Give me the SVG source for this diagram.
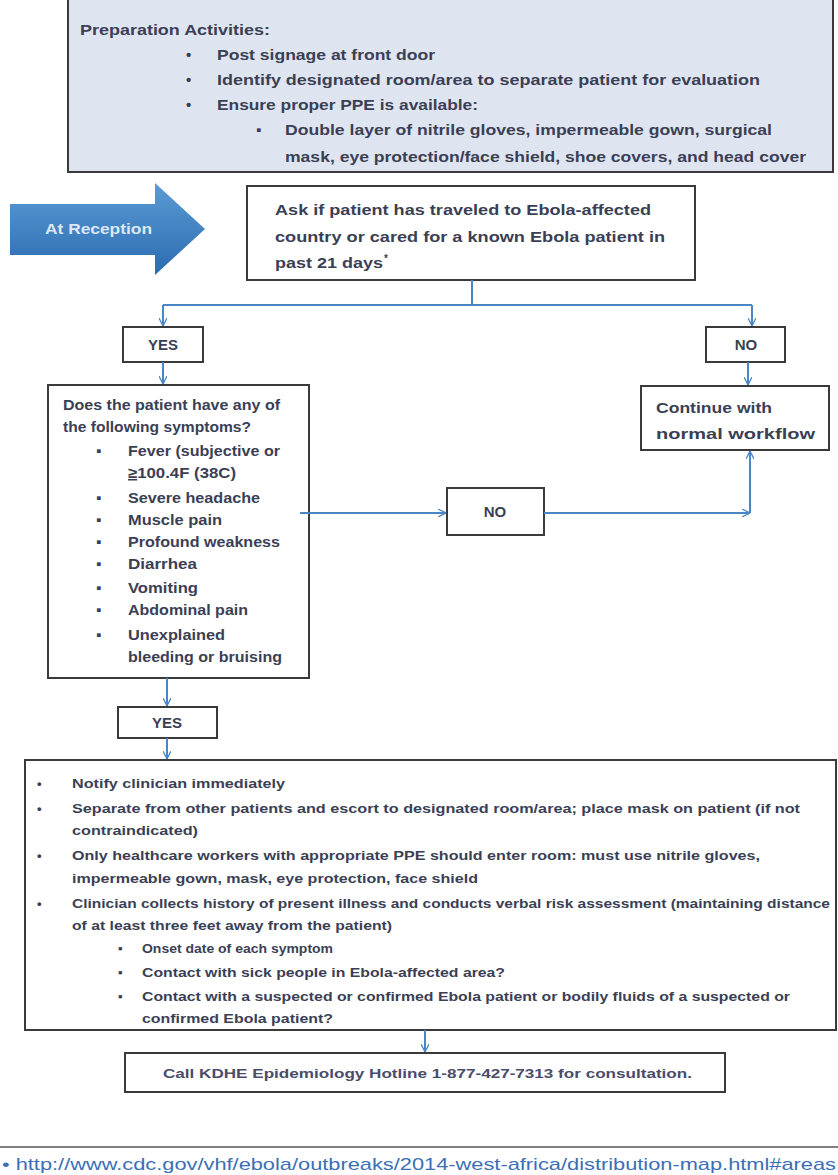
<svg xmlns="http://www.w3.org/2000/svg" width="838" height="1175" viewBox="0 0 838 1175">
<style>
text{font-family:"Liberation Sans",Arial,sans-serif;font-weight:bold;fill:#3b3f55}
.t15{font-size:15px}
.t13{font-size:13px;fill:#4a4c6a}
.box{fill:#fff;stroke:#3a3a3a;stroke-width:2}
.conn{fill:none;stroke:#4a86c5;stroke-width:2}
.lbl{text-anchor:middle}
</style>
<defs>
<marker id="ah" viewBox="0 0 10 10" refX="10" refY="5" markerWidth="8" markerHeight="8" markerUnits="userSpaceOnUse" orient="auto">
<path d="M0,0 L10,5 L0,10" fill="none" stroke="#4a86c5" stroke-width="1.6"/>
</marker>
<linearGradient id="bg" x1="0" y1="0" x2="0" y2="1">
<stop offset="0" stop-color="#5b9bd5"/>
<stop offset="1" stop-color="#2b6cb0"/>
</linearGradient>
</defs>
<rect width="838" height="1175" fill="#fff"/>

<g id="prep">
<rect x="68" y="-2" width="765" height="174" fill="#dfe5f0" stroke="#3a3a3a" stroke-width="2"/>
<text class="t15" x="80" y="35" textLength="190" lengthAdjust="spacingAndGlyphs">Preparation Activities:</text>
<text class="t15" x="186" y="60">•</text>
<text class="t15" x="217" y="60" textLength="218" lengthAdjust="spacingAndGlyphs">Post signage at front door</text>
<text class="t15" x="186" y="85">•</text>
<text class="t15" x="217" y="85" textLength="543" lengthAdjust="spacingAndGlyphs">Identify designated room/area to separate patient for evaluation</text>
<text class="t15" x="186" y="110">•</text>
<text class="t15" x="217" y="110" textLength="261" lengthAdjust="spacingAndGlyphs">Ensure proper PPE is available:</text>
<text class="t15" x="256" y="135">▪</text>
<text class="t15" x="285" y="135" textLength="487" lengthAdjust="spacingAndGlyphs">Double layer of nitrile gloves, impermeable gown, surgical</text>
<text class="t15" x="285" y="162" textLength="521" lengthAdjust="spacingAndGlyphs">mask, eye protection/face shield, shoe covers, and head cover</text>
</g>

<g id="reception">
<path d="M10,204 H155 V183 L205,229 L155,275 V255 H10 Z" fill="url(#bg)"/>
<text x="45" y="234" style="font-size:14px;fill:#dce7f5" textLength="107" lengthAdjust="spacingAndGlyphs">At Reception</text>
</g>

<g id="ask">
<rect class="box" x="247" y="186" width="448" height="94"/>
<text class="t15" x="275" y="215" textLength="376" lengthAdjust="spacingAndGlyphs">Ask if patient has traveled to Ebola-affected</text>
<text class="t15" x="275" y="242" textLength="390" lengthAdjust="spacingAndGlyphs">country or cared for a known Ebola patient in</text>
<text class="t15" x="275" y="268" textLength="108" lengthAdjust="spacingAndGlyphs">past 21 days</text>
<text x="384" y="262" style="font-size:10px">*</text>
</g>

<g id="yes1">
<rect class="box" x="123" y="327" width="80" height="35"/>
<text class="t15 lbl" x="163" y="350">YES</text>
</g>

<g id="no1">
<rect class="box" x="706" y="327" width="79" height="35"/>
<text class="t15 lbl" x="746" y="350">NO</text>
</g>

<g id="symptoms">
<rect class="box" x="48" y="385" width="261" height="293"/>
<text class="t15" x="63" y="410" textLength="217" lengthAdjust="spacingAndGlyphs">Does the patient have any of</text>
<text class="t15" x="63" y="432" textLength="188" lengthAdjust="spacingAndGlyphs">the following symptoms?</text>
<g class="t15">
<text x="96" y="456">▪</text><text x="128" y="456" textLength="152" lengthAdjust="spacingAndGlyphs">Fever (subjective or</text>
<text x="128" y="478" textLength="108" lengthAdjust="spacingAndGlyphs"><tspan text-decoration="underline">≥</tspan>100.4F (38C)</text>
<text x="96" y="503">▪</text><text x="128" y="503" textLength="132" lengthAdjust="spacingAndGlyphs">Severe headache</text>
<text x="96" y="525">▪</text><text x="128" y="525" textLength="94" lengthAdjust="spacingAndGlyphs">Muscle pain</text>
<text x="96" y="547">▪</text><text x="128" y="547" textLength="152" lengthAdjust="spacingAndGlyphs">Profound weakness</text>
<text x="96" y="569">▪</text><text x="128" y="569" textLength="69" lengthAdjust="spacingAndGlyphs">Diarrhea</text>
<text x="96" y="593">▪</text><text x="128" y="593" textLength="70" lengthAdjust="spacingAndGlyphs">Vomiting</text>
<text x="96" y="615">▪</text><text x="128" y="615" textLength="120" lengthAdjust="spacingAndGlyphs">Abdominal pain</text>
<text x="96" y="640">▪</text><text x="128" y="640" textLength="97" lengthAdjust="spacingAndGlyphs">Unexplained</text>
<text x="128" y="662" textLength="154" lengthAdjust="spacingAndGlyphs">bleeding or bruising</text>
</g>
</g>

<g id="no2">
<rect class="box" x="447" y="488" width="97" height="47"/>
<text class="t15 lbl" x="495" y="517">NO</text>
</g>

<g id="continue">
<rect class="box" x="641" y="386" width="188" height="64"/>
<text class="t15" x="656" y="413" textLength="116" lengthAdjust="spacingAndGlyphs">Continue with</text>
<text class="t15" x="656" y="439" textLength="159" lengthAdjust="spacingAndGlyphs">normal workflow</text>
</g>

<g id="yes2">
<rect class="box" x="118" y="707" width="99" height="31"/>
<text class="t15 lbl" x="167" y="728">YES</text>
</g>

<g id="actions">
<rect class="box" x="25" y="760" width="811" height="270"/>
<g class="t13">
<text x="37" y="788">•</text><text x="72" y="788" textLength="213" lengthAdjust="spacingAndGlyphs">Notify clinician immediately</text>
<text x="37" y="813">•</text><text x="72" y="813" textLength="728" lengthAdjust="spacingAndGlyphs">Separate from other patients and escort to designated room/area; place mask on patient (if not</text>
<text x="72" y="835" textLength="126" lengthAdjust="spacingAndGlyphs">contraindicated)</text>
<text x="37" y="860">•</text><text x="72" y="860" textLength="688" lengthAdjust="spacingAndGlyphs">Only healthcare workers with appropriate PPE should enter room:  must use nitrile gloves,</text>
<text x="72" y="883" textLength="406" lengthAdjust="spacingAndGlyphs">impermeable gown, mask, eye protection, face shield</text>
<text x="37" y="908">•</text><text x="72" y="908" textLength="758" lengthAdjust="spacingAndGlyphs">Clinician collects history of present illness and conducts verbal risk assessment (maintaining distance</text>
<text x="72" y="930" textLength="320" lengthAdjust="spacingAndGlyphs">of at least three feet away from the patient)</text>
<text x="118" y="953">▪</text><text x="142" y="953" textLength="191" lengthAdjust="spacingAndGlyphs">Onset date of each symptom</text>
<text x="118" y="977">▪</text><text x="142" y="977" textLength="363" lengthAdjust="spacingAndGlyphs">Contact with sick people in Ebola-affected area?</text>
<text x="118" y="1001">▪</text><text x="142" y="1001" textLength="648" lengthAdjust="spacingAndGlyphs">Contact with a suspected or confirmed Ebola patient or bodily fluids of a suspected or</text>
<text x="142" y="1023" textLength="191" lengthAdjust="spacingAndGlyphs">confirmed Ebola patient?</text>
</g>
</g>

<g id="hotline">
<rect class="box" x="125" y="1053" width="600" height="39"/>
<text class="t13" x="163" y="1078" textLength="529" lengthAdjust="spacingAndGlyphs">Call KDHE Epidemiology Hotline 1-877-427-7313 for consultation.</text>
</g>

<g id="footer">
<line x1="0" y1="1147" x2="838" y2="1147" stroke="#555" stroke-width="1.5"/>
<text x="2" y="1170" style="font-size:17px;font-weight:normal;fill:#3b6fb6" textLength="834" lengthAdjust="spacingAndGlyphs">• http://www.cdc.gov/vhf/ebola/outbreaks/2014-west-africa/distribution-map.html#areas</text>
</g>

<g id="connectors">
<path class="conn" d="M472,280 V305 M163,305 H752"/>
<path class="conn" d="M163,305 V326" marker-end="url(#ah)"/>
<path class="conn" d="M752,305 V326" marker-end="url(#ah)"/>
<path class="conn" d="M163,362 V384" marker-end="url(#ah)"/>
<path class="conn" d="M748,362 V385" marker-end="url(#ah)"/>
<path class="conn" d="M300,513 H446" marker-end="url(#ah)"/>
<path class="conn" d="M544,513 H750" marker-end="url(#ah)"/>
<path class="conn" d="M750,513 V451" marker-end="url(#ah)"/>
<path class="conn" d="M167,678 V706" marker-end="url(#ah)"/>
<path class="conn" d="M167,738 V759" marker-end="url(#ah)"/>
<path class="conn" d="M425,1030 V1052" marker-end="url(#ah)"/>
</g>
</svg>
